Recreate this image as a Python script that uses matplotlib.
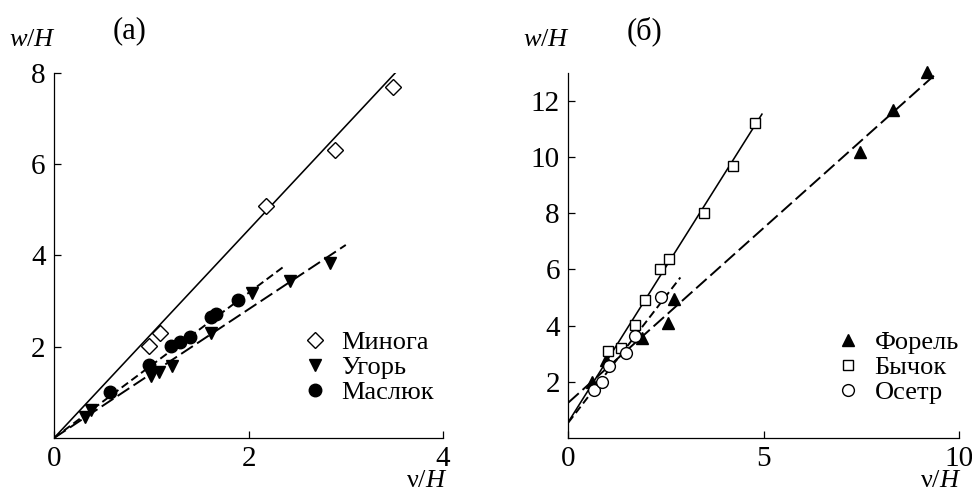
import numpy as np
import matplotlib
matplotlib.use('Agg')
import matplotlib.pyplot as plt
from matplotlib.lines import Line2D

plt.rcParams['font.family'] = ['Liberation Serif', 'DejaVu Serif']
plt.rcParams['mathtext.fontset'] = 'custom'
plt.rcParams['mathtext.rm'] = 'Liberation Serif'
plt.rcParams['mathtext.it'] = 'Liberation Serif:italic'

# (a) data
minoga_x = [0.98, 1.09, 2.18, 2.89, 3.49]
minoga_y = [2.01, 2.30, 5.09, 6.31, 7.70]
ugor_x = [0.32, 0.38, 1.00, 1.08, 1.21, 1.61, 2.04, 2.43, 2.84]
ugor_y = [0.47, 0.61, 1.35, 1.44, 1.57, 2.31, 3.18, 3.43, 3.83]
maslyuk_x = [0.58, 0.98, 1.20, 1.30, 1.40, 1.61, 1.67, 1.89]
maslyuk_y = [1.00, 1.61, 2.01, 2.10, 2.21, 2.66, 2.72, 3.03]

# (б) data
forel_x = [0.61, 0.97, 1.90, 2.56, 2.70, 7.48, 8.31, 9.18]
forel_y = [2.00, 2.76, 3.57, 4.10, 4.96, 10.18, 11.67, 13.02]
bychok_x = [1.02, 1.34, 1.72, 1.96, 2.36, 2.57, 3.48, 4.22, 4.77]
bychok_y = [3.08, 3.21, 4.01, 4.93, 6.00, 6.38, 8.02, 9.68, 11.21]
osetr_x = [0.67, 0.86, 1.05, 1.49, 1.72, 2.37]
osetr_y = [1.70, 1.98, 2.56, 3.04, 3.63, 5.02]

# linear fits: (slope, intercept, x end)
fit_minoga = (2.28, 0.0, 3.52)
fit_ugor = (1.41, 0.0, 3.00)
fit_maslyuk = (1.59, 0.0, 2.35)
fit_forel = (1.243, 1.26, 9.46)
fit_bychok = (2.21, 0.57, 4.96)
fit_osetr = (1.80, 0.55, 2.87)

solid = '-'
short_dash = (0, (4.1, 2.1))
long_dash = (0, (7.2, 2.6))

# marker styles
st_minoga = dict(marker='D', ms=8.5, mfc='white', mec='black', mew=1.0, ls='none')
st_ugor = dict(marker='v', ms=9, color='black', ls='none')
st_maslyuk = dict(marker='o', ms=9, color='black', ls='none')
st_forel = dict(marker='^', ms=9, color='black', ls='none')
st_bychok = dict(marker='s', ms=7, mfc='white', mec='black', mew=1.0, ls='none')
st_osetr = dict(marker='o', ms=8.5, mfc='white', mec='black', mew=1.0, ls='none')


def fit_line(ax, fit, ls):
    k, b, xe = fit
    xs = np.array([0.0, xe])
    lw = 1.15 if ls == '-' else 1.4
    ax.plot(xs, k * xs + b, color='black', lw=lw, linestyle=ls, zorder=1)


def style_axes(ax, xmax, ymax, xticks, yticks):
    ax.set_xlim(0, xmax)
    ax.set_ylim(0, ymax)
    ax.set_xticks(xticks)
    ax.set_yticks(yticks)
    ax.spines['top'].set_visible(False)
    ax.spines['right'].set_visible(False)
    for s in ('left', 'bottom'):
        ax.spines[s].set_linewidth(0.9)
    ax.tick_params(direction='in', length=5, width=0.9, labelsize=21, pad=6)
    ax.set_xticklabels([str(t) for t in xticks])


def add_legend(ax, styles, labels, x0):
    handles = [Line2D([], [], **s) for s in styles]
    ax.legend(handles, labels, loc='upper left', bbox_to_anchor=(x0, 0.33),
              frameon=False, fontsize=19, handlelength=1.0, handletextpad=0.5,
              labelspacing=0.05, borderpad=0)


fig = plt.figure(figsize=(9.72, 4.94), dpi=100)
ax1 = fig.add_axes([0.0556, 0.1134, 0.4002, 0.739])
ax2 = fig.add_axes([0.5847, 0.1134, 0.4016, 0.739])

# panel (a)
fit_line(ax1, fit_minoga, solid)
fit_line(ax1, fit_ugor, long_dash)
fit_line(ax1, fit_maslyuk, short_dash)
ax1.plot(minoga_x, minoga_y, clip_on=False, **st_minoga)
ax1.plot(ugor_x, ugor_y, clip_on=False, **st_ugor)
ax1.plot(maslyuk_x, maslyuk_y, clip_on=False, **st_maslyuk)
style_axes(ax1, 4, 8, [0, 2, 4], [2, 4, 6, 8])
add_legend(ax1, [st_minoga, st_ugor, st_maslyuk], ['Минога', 'Угорь', 'Маслюк'], 0.602)

# panel (б)
fit_line(ax2, fit_forel, long_dash)
fit_line(ax2, fit_bychok, solid)
fit_line(ax2, fit_osetr, short_dash)
ax2.plot(forel_x, forel_y, clip_on=False, **st_forel)
ax2.plot(bychok_x, bychok_y, clip_on=False, **st_bychok)
ax2.plot(osetr_x, osetr_y, clip_on=False, **st_osetr)
style_axes(ax2, 10, 13, [0, 5, 10], [2, 4, 6, 8, 10, 12])
add_legend(ax2, [st_forel, st_bychok, st_osetr], ['Форель', 'Бычок', 'Осетр'], 0.649)

# axis captions and panel labels
fig.text(33 / 972, 1 - 40 / 494, r'$w\mathrm{/}H$', fontsize=19, ha='center', va='center')
fig.text(547 / 972, 1 - 40 / 494, r'$w\mathrm{/}H$', fontsize=19, ha='center', va='center')
fig.text(427 / 972, 1 - 481 / 494, r'$\mathrm{\nu/}H$', fontsize=19, ha='center', va='center')
fig.text(941 / 972, 1 - 481 / 494, r'$\mathrm{\nu/}H$', fontsize=19, ha='center', va='center')
fig.text(130 / 972, 1 - 31 / 494, '(а)', fontsize=22, ha='center', va='center')
fig.text(645 / 972, 1 - 31 / 494, '(б)', fontsize=22, ha='center', va='center')

fig.savefig('out.png', dpi=100)
